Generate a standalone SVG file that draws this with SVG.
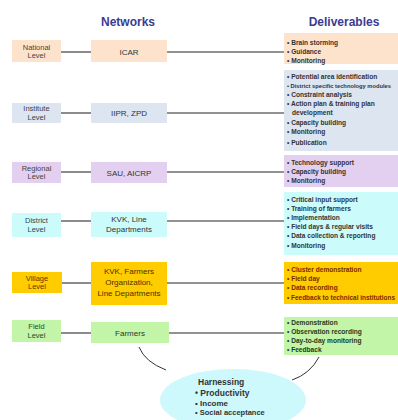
<svg xmlns="http://www.w3.org/2000/svg" width="398" height="420" viewBox="0 0 398 420">
<defs>
<style>
.title{font-family:"Liberation Sans",Arial,sans-serif;font-size:12px;font-weight:bold;fill:#3b3b90;text-anchor:middle}
.lvl{font-family:"Liberation Sans",Arial,sans-serif;font-size:7.5px;text-anchor:middle;fill:#444}
.net{font-family:"Liberation Sans",Arial,sans-serif;font-size:8px;text-anchor:middle;fill:#333}
.del{font-family:"Liberation Sans",Arial,sans-serif;font-size:6.6px;font-weight:bold;fill:#333}
.conn{stroke:#6e6e6e;stroke-width:1.6;fill:none}
.curve{stroke:#333;stroke-width:1;fill:none}
.peach{fill:#fde3cc}.blue{fill:#dde5f0}.purple{fill:#e3d0f0}.cyan{fill:#ccfbfb}.gold{fill:#ffcc00}.green{fill:#c2f5a8}
</style>
</defs>
<rect width="398" height="420" fill="#ffffff"/>
<text class="title" x="128" y="26">Networks</text>
<text class="title" x="344" y="26">Deliverables</text>

<g id="connectors">
<line class="conn" x1="61" y1="52" x2="91" y2="52"/><line class="conn" x1="167" y1="52" x2="284" y2="52"/>
<line class="conn" x1="61" y1="113" x2="91" y2="113"/><line class="conn" x1="167" y1="113" x2="284" y2="113"/>
<line class="conn" x1="61" y1="172" x2="91" y2="172"/><line class="conn" x1="167" y1="172" x2="284" y2="172"/>
<line class="conn" x1="61" y1="221" x2="91" y2="221"/><line class="conn" x1="167" y1="221" x2="284" y2="221"/>
<line class="conn" x1="61" y1="283" x2="91" y2="283"/><line class="conn" x1="167" y1="283" x2="284" y2="283"/>
<line class="conn" x1="61" y1="333" x2="91" y2="333"/><line class="conn" x1="169" y1="333" x2="284" y2="333"/>
<path class="curve" d="M139 347 Q145 362 166 370"/>
<path class="curve" d="M319 357 Q310 374 292 380"/>
</g>

<g id="national-level"><rect class="peach" x="12" y="40" width="49" height="22"/><text class="lvl" x="36.5" y="49.5">National</text><text class="lvl" x="36.5" y="58">Level</text></g>
<g id="icar"><rect class="peach" x="91" y="40" width="76" height="22"/><text class="net" x="129" y="54.5">ICAR</text></g>
<g id="national-deliverables"><rect class="peach" x="284" y="33" width="114" height="31"/>
<text class="del" x="287" y="44.5">• Brain storming</text><text class="del" x="287" y="53.5">• Guidance</text><text class="del" x="287" y="62.5">• Monitoring</text></g>

<g id="institute-level"><rect class="blue" x="12" y="103" width="49" height="20"/><text class="lvl" x="36.5" y="111">Institute</text><text class="lvl" x="36.5" y="119.5">Level</text></g>
<g id="iipr"><rect class="blue" x="91" y="103" width="76" height="20"/><text class="net" x="129" y="116">IIPR, ZPD</text></g>
<g id="institute-deliverables"><rect class="blue" x="284" y="70" width="114" height="81"/>
<text class="del" x="287" y="79">• Potential area identification</text>
<text class="del" x="287" y="88" style="font-size:6.2px" textLength="104" lengthAdjust="spacingAndGlyphs">• District specific technology modules</text>
<text class="del" x="287" y="97">• Constraint analysis</text>
<text class="del" x="287" y="106">• Action plan &amp; training plan</text>
<text class="del" x="292" y="115">development</text>
<text class="del" x="287" y="124.5">• Capacity building</text>
<text class="del" x="287" y="134">• Monitoring</text>
<text class="del" x="287" y="145">• Publication</text></g>

<g id="regional-level"><rect class="purple" x="12" y="162" width="49" height="21"/><text class="lvl" x="36.5" y="170.5">Regional</text><text class="lvl" x="36.5" y="179">Level</text></g>
<g id="sau"><rect class="purple" x="91" y="162" width="76" height="21"/><text class="net" x="129" y="175.5">SAU, AICRP</text></g>
<g id="regional-deliverables"><rect class="purple" x="284" y="155" width="114" height="32"/>
<text class="del" x="287" y="165">• Technology support</text><text class="del" x="287" y="174">• Capacity building</text><text class="del" x="287" y="183">• Monitoring</text></g>

<g id="district-level"><rect class="cyan" x="12" y="213" width="49" height="24"/><text class="lvl" x="36.5" y="222.5" style="fill:#2a4a55">District</text><text class="lvl" x="36.5" y="232" style="fill:#2a4a55">Level</text></g>
<g id="kvk-line"><rect class="cyan" x="91" y="212" width="76" height="25"/><text class="net" x="129" y="221.5">KVK, Line</text><text class="net" x="129" y="232">Departments</text></g>
<g id="district-deliverables"><rect class="cyan" x="284" y="192" width="114" height="63"/>
<text class="del" x="287" y="202">• Critical input support</text>
<text class="del" x="287" y="211">• Training of farmers</text>
<text class="del" x="287" y="220">• Implementation</text>
<text class="del" x="287" y="229">• Field days &amp; regular visits</text>
<text class="del" x="287" y="238">• Data collection &amp; reporting</text>
<text class="del" x="287" y="247.5">• Monitoring</text></g>

<g id="village-level"><rect class="gold" x="12" y="272" width="50" height="21"/><text class="lvl" x="37" y="280.5" style="fill:#5a3a00">Village</text><text class="lvl" x="37" y="289" style="fill:#5a3a00">Level</text></g>
<g id="kvk-farmers"><rect class="gold" x="91" y="262" width="76" height="43"/><text class="net" x="129" y="274" style="fill:#4a3000">KVK, Farmers</text><text class="net" x="129" y="284.5" style="fill:#4a3000">Organization,</text><text class="net" x="129" y="295.5" style="fill:#4a3000">Line Departments</text></g>
<g id="village-deliverables"><rect class="gold" x="284" y="262" width="114" height="42"/>
<text class="del" x="287" y="272" style="fill:#7a2a00">• Cluster demonstration</text>
<text class="del" x="287" y="281" style="fill:#7a2a00">• Field day</text>
<text class="del" x="287" y="290" style="fill:#7a2a00">• Data recording</text>
<text class="del" x="287" y="300" style="fill:#7a2a00" textLength="108" lengthAdjust="spacingAndGlyphs">• Feedback to technical institutions</text></g>

<g id="field-level"><rect class="green" x="12" y="320" width="49" height="22"/><text class="lvl" x="36.5" y="328.5" style="fill:#2a4a2a">Field</text><text class="lvl" x="36.5" y="338" style="fill:#2a4a2a">Level</text></g>
<g id="farmers"><rect class="green" x="91" y="322" width="78" height="21"/><text class="net" x="130" y="335.5" style="fill:#2a3a2a">Farmers</text></g>
<g id="field-deliverables"><rect class="green" x="284" y="317" width="114" height="38"/>
<text class="del" x="287" y="324.5" style="fill:#1f3a1f">• Demonstration</text>
<text class="del" x="287" y="333.5" style="fill:#1f3a1f">• Observation recording</text>
<text class="del" x="287" y="342.5" style="fill:#1f3a1f">• Day-to-day monitoring</text>
<text class="del" x="287" y="351.5" style="fill:#1f3a1f">• Feedback</text></g>

<g id="harnessing"><ellipse cx="233" cy="400" rx="73" ry="31" fill="#cdf8fc"/>
<text x="198" y="385" style="font-family:'Liberation Sans',Arial,sans-serif;font-size:8.5px;font-weight:bold;fill:#333">Harnessing</text>
<text x="195" y="395.5" style="font-family:'Liberation Sans',Arial,sans-serif;font-size:8.5px;font-weight:bold;fill:#333">• Productivity</text>
<text x="195" y="405.5" style="font-family:'Liberation Sans',Arial,sans-serif;font-size:8px;font-weight:bold;fill:#333">• Income</text>
<text x="195" y="415" style="font-family:'Liberation Sans',Arial,sans-serif;font-size:7.5px;font-weight:bold;fill:#333">• Social acceptance</text></g>
</svg>
